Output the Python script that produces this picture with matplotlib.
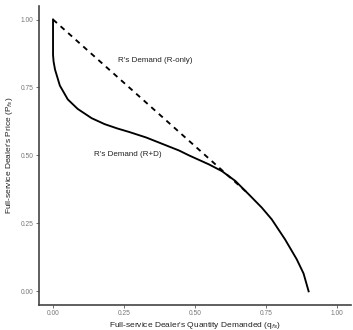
import matplotlib.pyplot as plt

plt.rcParams["font.family"] = ["Liberation Sans", "DejaVu Sans"]

# R's demand when only R sells (straight line)
q_r_only = [0.0, 0.69]
p_r_only = [1.0, 0.357]

# R's demand with both R and D in the market
q_rd = [0.0, 0.0, 0.002, 0.007, 0.024, 0.052, 0.087, 0.136, 0.182, 0.227, 0.269, 0.328,
        0.386, 0.444, 0.479, 0.549, 0.595, 0.642, 0.689, 0.735, 0.770, 0.817, 0.858, 0.882, 0.90]
p_rd = [1.0, 0.87, 0.845, 0.816, 0.757, 0.706, 0.671, 0.637, 0.615, 0.599, 0.586, 0.566,
        0.542, 0.518, 0.500, 0.467, 0.442, 0.406, 0.357, 0.308, 0.265, 0.191, 0.118, 0.066, 0.0]

ticks = [0.0, 0.25, 0.5, 0.75, 1.0]
tick_labels = ["0.00", "0.25", "0.50", "0.75", "1.00"]


def main():
    fig = plt.figure(figsize=(3.53, 3.30), dpi=100)
    ax = fig.add_axes([0.110, 0.076, 0.885, 0.906])

    ax.plot(q_rd, p_rd, color="black", linewidth=1.35, solid_joinstyle="round")
    ax.plot(q_r_only, p_r_only, color="black", linewidth=1.35, linestyle=(0, (2.8, 2.6)))

    ax.text(0.36, 0.85, "R's Demand (R-only)", fontsize=5.8, ha="center", va="center", color="#222222")
    ax.text(0.262, 0.504, "R's Demand (R+D)", fontsize=5.8, ha="center", va="center", color="#222222")

    ax.set_xlim(-0.05, 1.05)
    ax.set_ylim(-0.05, 1.05)
    ax.set_xticks(ticks)
    ax.set_xticklabels(tick_labels)
    ax.set_yticks(ticks)
    ax.set_yticklabels(tick_labels)
    ax.tick_params(labelsize=4.8, labelcolor="#777777", color="#555555", length=2, width=0.6, pad=2)

    for side in ["top", "right"]:
        ax.spines[side].set_visible(False)
    for side in ["left", "bottom"]:
        ax.spines[side].set_color("#444444")
        ax.spines[side].set_linewidth(1.2)

    ax.set_xlabel("Full-service Dealer's Quantity Demanded (q$_{fs}$)", fontsize=6, color="#222222", labelpad=1.5)
    ax.set_ylabel("Full-service Dealer's Price (P$_{fs}$)", fontsize=6, color="#222222", labelpad=4)

    fig.savefig("out.png", dpi=100)
    plt.close(fig)


if __name__ == "__main__":
    main()
